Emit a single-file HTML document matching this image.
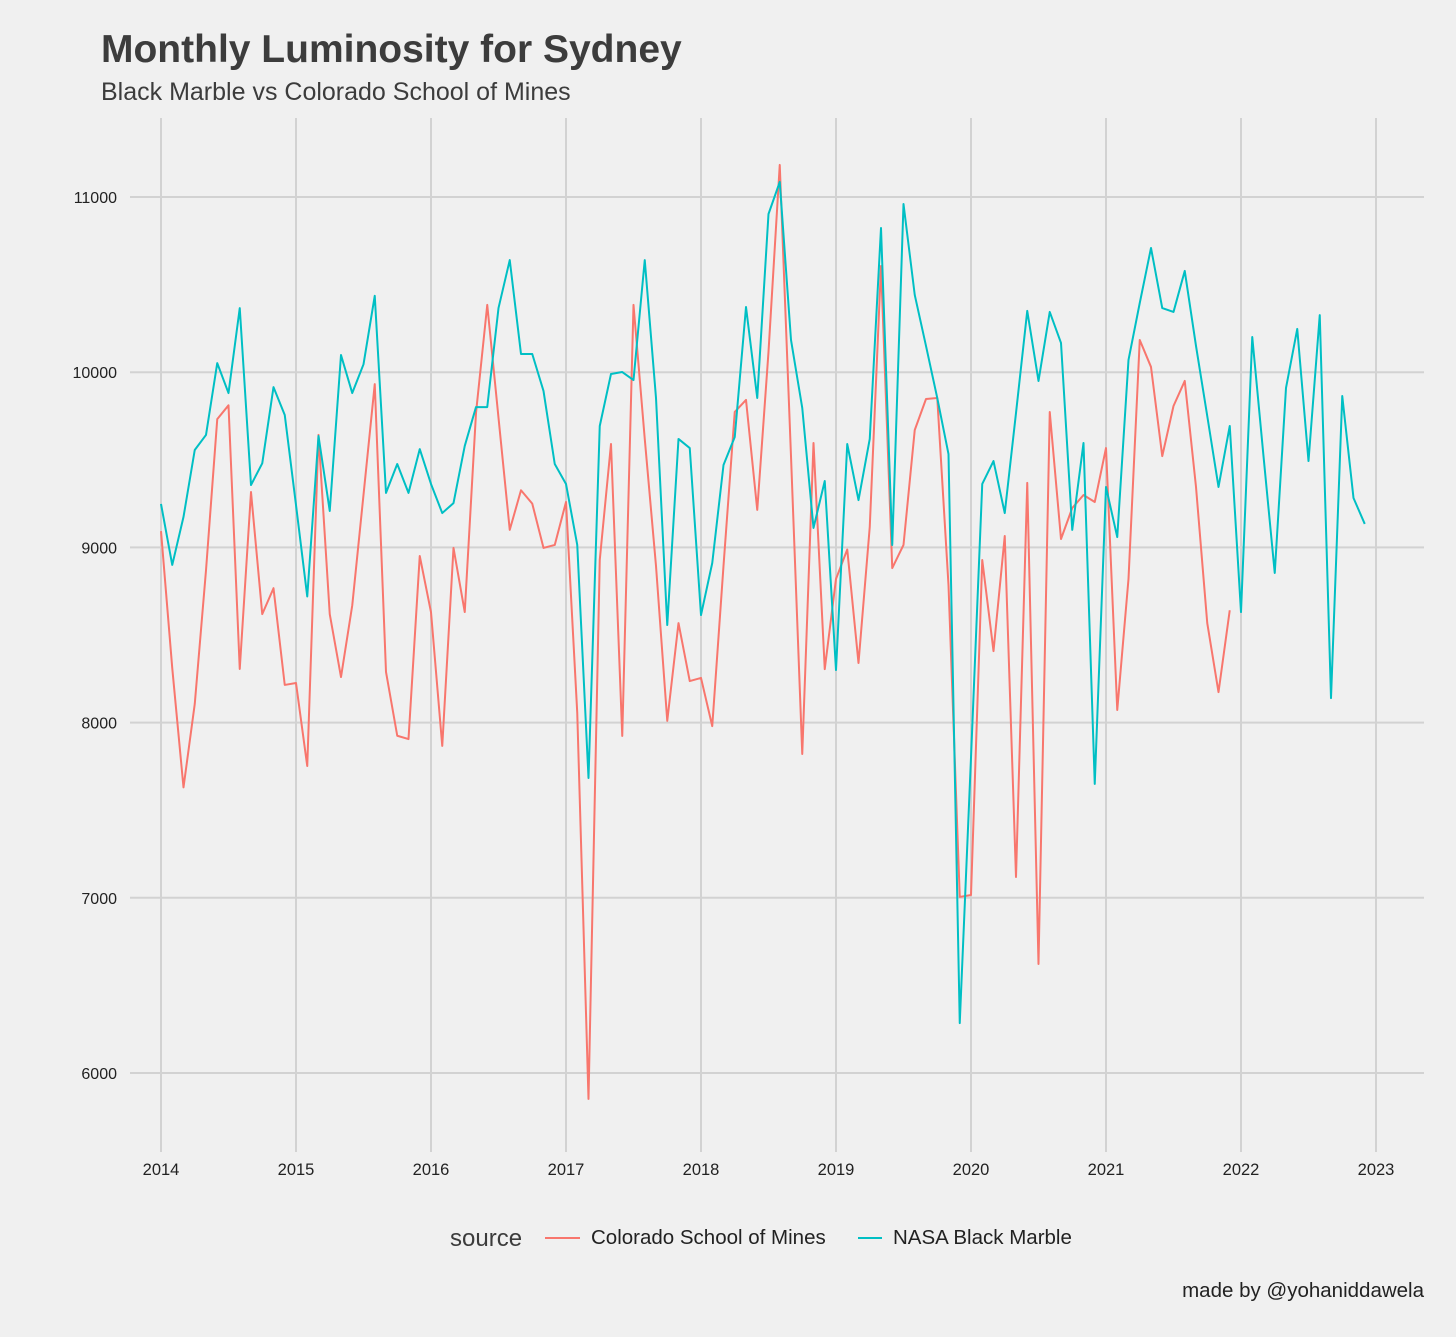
<!DOCTYPE html>
<html><head><meta charset="utf-8"><style>
body{margin:0;background:#f0f0f0;}
svg text{font-family:"Liberation Sans",Arial,sans-serif;}
</style></head><body>
<svg id="chart" width="1456" height="1332" viewBox="0 0 1456 1332" xmlns="http://www.w3.org/2000/svg">
<rect width="1456" height="1332" fill="#f0f0f0"/>
<text x="101" y="62" font-size="39" font-weight="bold" fill="#3c3c3c">Monthly Luminosity for Sydney</text>
<text x="101" y="100" font-size="25" fill="#3c3c3c">Black Marble vs Colorado School of Mines</text>
<g id="grid"></g>
<g id="series"></g>
<g>
<text x="450" y="1246" font-size="24" fill="#3c3c3c">source</text>
<line x1="545" y1="1238" x2="580" y2="1238" stroke="#F8766D" stroke-width="2"/>
<text x="591" y="1244" font-size="20.5" fill="#222">Colorado School of Mines</text>
<line x1="858" y1="1238" x2="882" y2="1238" stroke="#00BFC4" stroke-width="2"/>
<text x="893" y="1244" font-size="20.5" fill="#222">NASA Black Marble</text>
</g>
<text x="1424" y="1297" font-size="20.5" fill="#222" text-anchor="end">made by @yohaniddawela</text>
</svg>
<script>
const years = [2014,2015,2016,2017,2018,2019,2020,2021,2022,2023];
const yTicks = [6000,7000,8000,9000,10000,11000];
const csm = [9093,8311,7630,8106,8869,9732,9811,8306,9316,8619,8767,8215,
8226,7752,9642,8619,8260,8669,9300,9932,8289,7925,7906,8951,
8630,7867,8997,8631,9767,10384,9740,9100,9326,9250,8997,9014,
9259,8055,5852,8928,9590,7924,10384,9620,8894,8010,8568,8237,
8255,7980,8894,9773,9842,9214,10116,11183,9521,7821,9596,8305,
8820,8988,8340,9117,10606,8882,9014,9670,9847,9853,8785,7005,
7016,8928,8408,9065,7119,9368,6622,9773,9048,9225,9299,9259,
9567,8072,8820,10184,10030,9521,9807,9950,9345,8568,8174,8641];
const nasa = [9248,8900,9174,9556,9642,10052,9881,10366,9356,9480,9915,9756,
9242,8720,9636,9208,10098,9881,10045,10436,9311,9476,9311,9561,
9362,9196,9253,9579,9801,9801,10366,10640,10104,10104,9893,9476,
9362,9014,7684,9693,9990,10001,9955,10640,9853,8557,9619,9567,
8614,8911,9470,9630,10372,9853,10903,11086,10184,9796,9111,9379,
8300,9590,9270,9619,10823,9014,10960,10441,10150,9853,9533,6285,
7800,9362,9493,9196,9767,10350,9950,10344,10167,9100,9596,7650,
9345,9059,10070,10395,10709,10366,10344,10578,10150,9750,9345,9693,
8631,10201,9521,8854,9910,10247,9493,10326,8140,9864,9282,9134];
const NS="http://www.w3.org/2000/svg";
const xs = m => 161 + m*(1215/108);
const ys = v => 197 + (11000-v)*0.1752;
const grid=document.getElementById('grid');
function mk(tag,attrs,parent){const e=document.createElementNS(NS,tag);for(const k in attrs)e.setAttribute(k,attrs[k]);parent.appendChild(e);return e;}
yTicks.forEach(v=>{
  const l=mk('line',{x1:130,x2:1424,y1:ys(v),y2:ys(v),stroke:'#d2d2d2','stroke-width':2},grid);
  
  
  const t=mk('text',{x:117,y:ys(v)+6,'font-size':16,'text-anchor':'end',fill:'#222'},grid);
  t.textContent=v;
  
  
});
years.forEach((y,i)=>{
  const x=xs(i*12);
  const l=mk('line',{x1:x,x2:x,y1:118,y2:1152,stroke:'#d2d2d2','stroke-width':2},grid);
  
  
  const t=mk('text',{x:x,y:1175,'font-size':16.5,'text-anchor':'middle',fill:'#222'},grid);
  t.textContent=y;
  
  
});
const sg=document.getElementById('series');
function line(data,color,name){
  const p=mk('polyline',{points:data.map((v,i)=>xs(i)+','+ys(v)).join(' '),fill:'none',stroke:color,'stroke-width':2,'stroke-linejoin':'round'},sg);
  
  
}
line(csm,'#F8766D','csm-line');
line(nasa,'#00BFC4','nasa-line');
</script>
</body></html>
